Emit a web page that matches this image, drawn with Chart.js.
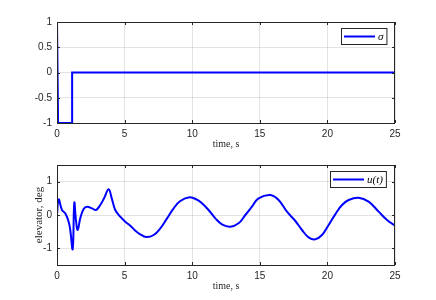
<!DOCTYPE html>
<html>
<head>
<meta charset="utf-8">
<script src="https://cdn.jsdelivr.net/npm/chart.js@4.4.0/dist/chart.umd.min.js"></script>
<style>
  body { margin: 0; background: #fff; }
  #wrap { position: relative; width: 436px; height: 300px; }
  canvas { position: absolute; left: 0; }
</style>
</head>
<body>
<div id="wrap">
  <canvas id="sigmaChart" width="436" height="150" style="top:0"></canvas>
  <canvas id="uChart" width="436" height="150" style="top:150px"></canvas>
</div>
<script>
// sigma (top plot)
var sigmaTime = [0, 0.08, 1.12, 1.12, 25];
var sigmaValues = [1, -1, -1, 0, 0];
var sigmaTicks = [-1, -0.5, 0, 0.5, 1];

// u(t), elevator deflection (bottom plot)
var uTime = [0, 0.12, 0.37, 0.61, 0.86, 0.98, 1.16, 1.28, 1.4, 1.53, 1.72, 1.97, 2.22, 2.59, 2.88,
  3.2, 3.5, 3.82, 4.05, 4.31, 4.68, 5.05, 5.42, 5.8, 6.16, 6.6, 7.15, 7.64, 8.14, 8.63, 9.12, 9.81,
  10.35, 10.72, 11.21, 11.71, 12.2, 12.82, 13.43, 13.93, 14.42, 14.91, 15.78, 16.39, 17.01, 17.63,
  18.12, 18.61, 19.1, 19.6, 20.09, 20.58, 21.08, 21.57, 22.31, 23.05, 23.79, 24.41, 25];
var uValues = [0, 0.47, 0.15, 0.05, -0.2, -0.45, -1.02, 0.37, -0.15, -0.45, -0.1, 0.18, 0.25, 0.2, 0.15,
  0.3, 0.52, 0.77, 0.5, 0.15, -0.05, -0.2, -0.32, -0.47, -0.58, -0.66, -0.6, -0.4, -0.1, 0.2, 0.42, 0.53,
  0.46, 0.35, 0.15, -0.1, -0.28, -0.35, -0.25, 0, 0.25, 0.5, 0.6, 0.45, 0.1, -0.18,
  -0.45, -0.67, -0.73, -0.6, -0.3, 0.02, 0.3, 0.45, 0.52, 0.4, 0.1, -0.15, -0.32];
var uTicks = [-1, 0, 1];

var timeTicks = [0, 5, 10, 15, 20, 25];

var axisColor = '#262626';
var gridColor = 'rgba(38,38,38,0.13)';
var serif = "'Liberation Serif', 'DejaVu Serif', serif";

Chart.defaults.font.family = "'Liberation Sans', Arial, sans-serif";
Chart.defaults.font.size = 10;
Chart.defaults.color = axisColor;

function toPoints(xs, ys) {
  return xs.map(function (x, i) { return { x: x, y: ys[i] }; });
}

// box round the axes with inward tick marks, like matlab
var boxPlugin = {
  id: 'matlabBox',
  afterDatasetsDraw: function (chart) {
    var ctx = chart.ctx, a = chart.chartArea, sx = chart.scales.x, sy = chart.scales.y;
    ctx.save();
    ctx.strokeStyle = axisColor;
    ctx.lineWidth = 1;
    ctx.beginPath();
    sx.ticks.forEach(function (t) {
      var px = Math.round(sx.getPixelForValue(t.value)) + 0.5;
      ctx.moveTo(px, a.bottom); ctx.lineTo(px, a.bottom - 3);
      ctx.moveTo(px, a.top); ctx.lineTo(px, a.top + 3);
    });
    sy.ticks.forEach(function (t) {
      var py = Math.round(sy.getPixelForValue(t.value)) + 0.5;
      ctx.moveTo(a.left, py); ctx.lineTo(a.left + 3, py);
      ctx.moveTo(a.right, py); ctx.lineTo(a.right - 3, py);
    });
    ctx.stroke();
    ctx.strokeRect(Math.round(a.left) + 0.5, Math.round(a.top) + 0.5,
      Math.round(a.width) - 1, Math.round(a.height));
    ctx.restore();
  }
};

// legend box in the top right corner of the axes
var legendPlugin = {
  id: 'boxLegend',
  afterDatasetsDraw: function (chart) {
    var ctx = chart.ctx, a = chart.chartArea;
    var ds = chart.data.datasets[0];
    ctx.save();
    ctx.font = 'italic 11px ' + serif;
    var tw = ctx.measureText(ds.label).width;
    var w = 3 + 31 + 3 + tw + 3, h = 16;
    var x = Math.round(a.right - 9 - w), y = Math.round(a.top + 6);
    ctx.fillStyle = '#fff';
    ctx.fillRect(x, y, w, h);
    ctx.strokeStyle = axisColor;
    ctx.lineWidth = 1;
    ctx.strokeRect(x + 0.5, y + 0.5, w, h);
    ctx.strokeStyle = ds.borderColor;
    ctx.lineWidth = 2;
    ctx.beginPath();
    ctx.moveTo(x + 3, y + h / 2 + 0.5);
    ctx.lineTo(x + 34, y + h / 2 + 0.5);
    ctx.stroke();
    ctx.fillStyle = '#000';
    ctx.textBaseline = 'middle';
    ctx.fillText(ds.label, x + 37, y + h / 2 + 1);
    ctx.restore();
  }
};

function makeOptions(yMin, yMax, yTicks, yTitle, padTop, padBottom) {
  return {
    responsive: false,
    animation: false,
    layout: { padding: { left: 0, right: 41, top: padTop, bottom: padBottom } },
    plugins: { legend: { display: false }, tooltip: { enabled: false } },
    scales: {
      x: {
        type: 'linear',
        min: 0, max: 25,
        afterBuildTicks: function (s) { s.ticks = timeTicks.map(function (v) { return { value: v }; }); },
        afterFit: function (s) { s.height = 27; },
        grid: { color: gridColor, drawTicks: false },
        border: { display: false },
        ticks: { padding: 5, maxRotation: 0, callback: function (v) { return String(v); } },
        title: { display: true, text: 'time, s', font: { family: serif, size: 10 }, color: axisColor, padding: { top: 0, bottom: 0 } }
      },
      y: {
        min: yMin, max: yMax,
        afterBuildTicks: function (s) { s.ticks = yTicks.map(function (v) { return { value: v }; }); },
        afterFit: function (s) { s.width = 57; },
        grid: { color: gridColor, drawTicks: false },
        border: { display: false },
        ticks: { padding: 5, callback: function (v) { return String(v); } },
        title: { display: !!yTitle, text: yTitle, font: { family: serif, size: 11 }, color: axisColor, padding: { top: 33, bottom: 0 } }
      }
    }
  };
}

new Chart(document.getElementById('sigmaChart').getContext('2d'), {
  type: 'line',
  data: {
    datasets: [{
      label: 'σ',
      data: toPoints(sigmaTime, sigmaValues),
      borderColor: '#0000ff',
      borderWidth: 2,
      pointRadius: 0,
      tension: 0,
      fill: false
    }]
  },
  options: makeOptions(-1, 1, sigmaTicks, '', 22, 0),
  plugins: [boxPlugin, legendPlugin]
});

new Chart(document.getElementById('uChart').getContext('2d'), {
  type: 'line',
  data: {
    datasets: [{
      label: 'u(t)',
      data: toPoints(uTime, uValues),
      borderColor: '#0000ff',
      borderWidth: 2,
      pointRadius: 0,
      tension: 0.4,
      fill: false
    }]
  },
  options: makeOptions(-1.5, 1.5, uTicks, 'elevator, deg', 15, 8),
  plugins: [boxPlugin, legendPlugin]
});
</script>
</body>
</html>
